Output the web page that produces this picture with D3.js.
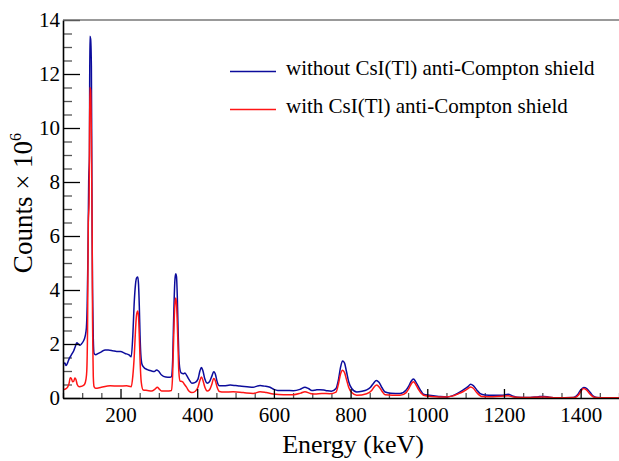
<!DOCTYPE html>
<html>
<head>
<meta charset="utf-8">
<script src="https://cdn.jsdelivr.net/npm/d3@7"></script>
<style>
  body { margin: 0; background: #fff; }
  svg { display: block; font-family: "Liberation Serif", "Times New Roman", serif; }
</style>
</head>
<body>
<svg id="chart" width="619" height="461"></svg>
<script>
// spectrum, energy in keV, counts in units of 10^6
var blueEnergy = [50, 52, 55, 58, 62, 66, 70, 74, 78, 82, 86, 90, 94, 98, 103, 108, 111, 113, 115, 117,
  119, 120, 122, 124, 125, 126, 127, 128, 129, 131, 135, 142, 151, 160, 168, 180, 190, 200, 212, 222,
  228, 232, 236, 239, 242, 245, 247, 249, 251, 253, 256, 260, 270, 281, 288, 294, 299, 307, 318, 329, 333,
  336, 338, 340, 342, 344, 346, 348, 350, 352, 355, 358, 364, 368, 372, 378, 386, 395, 402, 407, 411, 415,
  420, 426, 432, 438, 443, 447, 452, 458, 470, 486, 500, 511, 530, 546, 556, 564, 575, 590, 600, 610,
  630, 651, 668, 681, 690, 699, 710, 720, 735, 750, 762, 768, 774, 779, 784, 789, 795, 803, 816, 830,
  842, 852, 860, 867, 874, 882, 890, 905, 929, 945, 952, 958, 964, 970, 977, 984, 990, 1005, 1030, 1051,
  1065, 1080, 1094, 1106, 1113, 1120, 1129, 1138, 1150, 1172, 1195, 1211, 1222, 1235, 1268, 1290, 1303, 1318, 1340, 1381,
  1392, 1400, 1408, 1416, 1424, 1432, 1442, 1470, 1500];
var blueCounts = [1.04, 1.28, 1.3, 1.2, 1.3, 1.45, 1.55, 1.65, 1.75, 1.9, 2.05, 2.0, 1.95, 2.0, 2.1, 2.3, 2.6, 3.4, 5.2, 8.0,
  9.0, 13.4, 13.3, 12.3, 9.2, 6.0, 4.1, 3.1, 2.2, 1.65, 1.6, 1.65, 1.72, 1.78, 1.78, 1.75, 1.72, 1.72, 1.65, 1.6,
  1.53, 2.3, 3.6, 4.2, 4.45, 4.48, 4.2, 3.4, 2.3, 1.6, 1.25, 1.15, 1.05, 1.0, 0.98, 1.04, 1.0, 0.85, 0.78, 0.77, 0.8,
  1.4, 2.6, 3.7, 4.4, 4.6, 4.5, 3.8, 2.6, 1.6, 1.05, 0.93, 0.9, 0.93, 0.85, 0.7, 0.55, 0.58, 0.7, 1.0, 1.13, 1.0,
  0.7, 0.55, 0.6, 0.8, 0.97, 0.9, 0.6, 0.45, 0.45, 0.48, 0.46, 0.44, 0.42, 0.4, 0.44, 0.46, 0.44, 0.4, 0.32, 0.28,
  0.28, 0.27, 0.32, 0.4, 0.35, 0.28, 0.3, 0.31, 0.28, 0.25, 0.35, 0.65, 1.15, 1.37, 1.3, 1.0, 0.6, 0.35, 0.22, 0.25,
  0.3, 0.4, 0.55, 0.65, 0.58, 0.38, 0.22, 0.18, 0.17, 0.3, 0.45, 0.62, 0.7, 0.6, 0.42, 0.25, 0.14, 0.1, 0.06, 0.04,
  0.08, 0.18, 0.3, 0.42, 0.51, 0.46, 0.3, 0.16, 0.11, 0.1, 0.1, 0.14, 0.08, 0.03, 0.02, 0.05, 0.06, 0.03, 0.01, 0.02,
  0.12, 0.3, 0.39, 0.35, 0.22, 0.08, 0.02, 0.01, 0.01];

var redEnergy = [50, 54, 58, 62, 66, 69, 72, 75, 78, 81, 84, 87, 92, 100, 106, 110, 112, 114, 116, 118,
  120, 122, 124, 126, 127, 128, 129, 131, 135, 150, 173, 195, 216, 228, 232, 236, 239, 242, 245, 247, 249,
  251, 254, 259, 270, 281, 290, 296, 301, 307, 320, 333, 336, 338, 340, 342, 344, 346, 348, 350, 352, 355,
  358, 362, 366, 372, 379, 386, 395, 402, 407, 411, 415, 420, 426, 432, 438, 443, 447, 452, 458, 470,
  494, 520, 546, 564, 580, 598, 625, 651, 670, 681, 695, 707, 725, 746, 762, 768, 774, 779, 784, 789,
  795, 803, 816, 842, 855, 862, 868, 875, 882, 890, 929, 945, 952, 958, 964, 970, 977, 984, 990, 1010,
  1051, 1065, 1080, 1094, 1106, 1113, 1120, 1129, 1142, 1172, 1211, 1225, 1260, 1303, 1330, 1385, 1395, 1402, 1408, 1415,
  1424, 1435, 1460, 1500];
var redCounts = [0.3, 0.32, 0.35, 0.4, 0.55, 0.75, 0.72, 0.6, 0.62, 0.74, 0.68, 0.5, 0.42, 0.44, 0.5, 0.7, 1.0, 2.5, 6.5, 7.2,
  11.5, 11.4, 9.7, 6.2, 3.0, 1.7, 0.8, 0.42, 0.36, 0.4, 0.45, 0.44, 0.45, 0.42, 0.8, 1.6, 2.5, 3.1, 3.22, 3.0, 2.3,
  1.4, 0.6, 0.3, 0.28, 0.26, 0.33, 0.4, 0.33, 0.26, 0.26, 0.28, 0.9, 1.9, 2.9, 3.5, 3.7, 3.5, 2.8, 1.9, 1.0, 0.62,
  0.62, 0.6, 0.52, 0.4, 0.25, 0.2, 0.25, 0.4, 0.65, 0.78, 0.65, 0.4, 0.26, 0.3, 0.5, 0.72, 0.65, 0.4, 0.24, 0.22,
  0.23, 0.2, 0.17, 0.23, 0.2, 0.15, 0.12, 0.12, 0.18, 0.23, 0.17, 0.15, 0.17, 0.16, 0.22, 0.5, 0.9, 1.03, 0.95, 0.7,
  0.4, 0.2, 0.1, 0.16, 0.28, 0.42, 0.48, 0.4, 0.25, 0.12, 0.1, 0.2, 0.35, 0.52, 0.6, 0.5, 0.32, 0.18, 0.1, 0.06,
  0.04, 0.07, 0.15, 0.24, 0.35, 0.41, 0.36, 0.2, 0.06, 0.05, 0.08, 0.04, 0.02, 0.04, 0.01, 0.02, 0.12, 0.28, 0.35, 0.3,
  0.15, 0.03, 0.01, 0.01];

var xMajorTicks = [200, 400, 600, 800, 1000, 1200, 1400];
var yMajorTicks = [0, 2, 4, 6, 8, 10, 12, 14];
var legendLabels = ["without CsI(Tl) anti-Compton shield", "with CsI(Tl) anti-Compton shield"];

var plotLeft = 63, plotRight = 619, plotTop = 20, plotBottom = 398;
var svg = d3.select("#chart");

var x = d3.scaleLinear().domain([50, 1500]).range([plotLeft, plotRight]);
var y = d3.scaleLinear().domain([0, 14]).range([plotBottom, plotTop]);

svg.append("clipPath").attr("id", "plotclip")
  .append("rect")
  .attr("x", plotLeft).attr("y", plotTop)
  .attr("width", plotRight - plotLeft).attr("height", plotBottom - plotTop);

// minor ticks (every 50 keV, every 0.5)
var xMinor = d3.range(50, 1501, 50).filter(function (d) { return d % 200 != 0; });
var yMinor = d3.range(0, 14.01, 0.5).filter(function (d) { return d % 2 != 0; });

var gxMinor = svg.append("g")
  .attr("transform", "translate(0," + plotBottom + ")")
  .call(d3.axisBottom(x).tickValues(xMinor).tickSize(-5).tickFormat(""));
gxMinor.select(".domain").remove();
gxMinor.selectAll("line").attr("stroke", "#555").attr("stroke-width", 1.3);

var gyMinor = svg.append("g")
  .attr("transform", "translate(" + plotLeft + ",0)")
  .call(d3.axisLeft(y).tickValues(yMinor).tickSize(-9).tickFormat(""));
gyMinor.select(".domain").remove();
gyMinor.selectAll("line").attr("stroke", "#555").attr("stroke-width", 1.3);

// the two spectra
var line = d3.line()
  .x(function (d) { return x(d[0]); })
  .y(function (d) { return y(d[1]); })
  .curve(d3.curveMonotoneX);

var blueData = d3.zip(blueEnergy, blueCounts);
var redData = d3.zip(redEnergy, redCounts);

var plot = svg.append("g").attr("clip-path", "url(#plotclip)");
plot.append("path").datum(blueData)
  .attr("d", line).attr("fill", "none")
  .attr("stroke", "#0c0c9c").attr("stroke-width", 1.5);
plot.append("path").datum(redData)
  .attr("d", line).attr("fill", "none")
  .attr("stroke", "#ff1515").attr("stroke-width", 1.5);

// major axes
var gx = svg.append("g")
  .attr("transform", "translate(0," + plotBottom + ")")
  .call(d3.axisBottom(x).tickValues(xMajorTicks).tickFormat(d3.format("d"))
    .tickSize(-9).tickPadding(9).tickSizeOuter(0));
gx.select(".domain").attr("stroke", "#000").attr("stroke-width", 1.6);
gx.selectAll("line").attr("stroke", "#000").attr("stroke-width", 1.3);
gx.selectAll("text")
  .attr("font-family", "Liberation Serif, serif")
  .attr("font-size", 21).attr("fill", "#000");

var gy = svg.append("g")
  .attr("transform", "translate(" + plotLeft + ",0)")
  .call(d3.axisLeft(y).tickValues(yMajorTicks).tickSize(-17).tickPadding(3).tickSizeOuter(0));
gy.select(".domain").attr("stroke", "#000").attr("stroke-width", 1.6);
gy.selectAll("line").attr("stroke", "#000").attr("stroke-width", 1.3);
gy.selectAll("text")
  .attr("font-family", "Liberation Serif, serif")
  .attr("font-size", 21).attr("fill", "#000");

// top frame line
svg.append("line")
  .attr("x1", plotLeft).attr("x2", plotRight)
  .attr("y1", plotTop).attr("y2", plotTop)
  .attr("stroke", "#777").attr("stroke-width", 1.6);

// axis titles
svg.append("text")
  .attr("x", 353).attr("y", 453)
  .attr("text-anchor", "middle")
  .attr("font-size", 26)
  .text("Energy (keV)");

var ytitle = svg.append("text")
  .attr("transform", "translate(32,203) rotate(-90)")
  .attr("text-anchor", "middle")
  .attr("font-size", 27);
ytitle.append("tspan").text("Counts \u00d7 10");
ytitle.append("tspan").attr("font-size", 16).attr("dy", -11).text("6");

// legend
var legendColors = ["#0c0c9c", "#ff1515"];
var legendY = [71.5, 109.5];
legendLabels.forEach(function (label, i) {
  svg.append("line")
    .attr("x1", 230).attr("x2", 276)
    .attr("y1", legendY[i]).attr("y2", legendY[i])
    .attr("stroke", legendColors[i]).attr("stroke-width", 1.3);
  svg.append("text")
    .attr("x", 286).attr("y", legendY[i] + 3.5)
    .attr("font-size", 21)
    .text(label);
});
</script>
</body>
</html>
